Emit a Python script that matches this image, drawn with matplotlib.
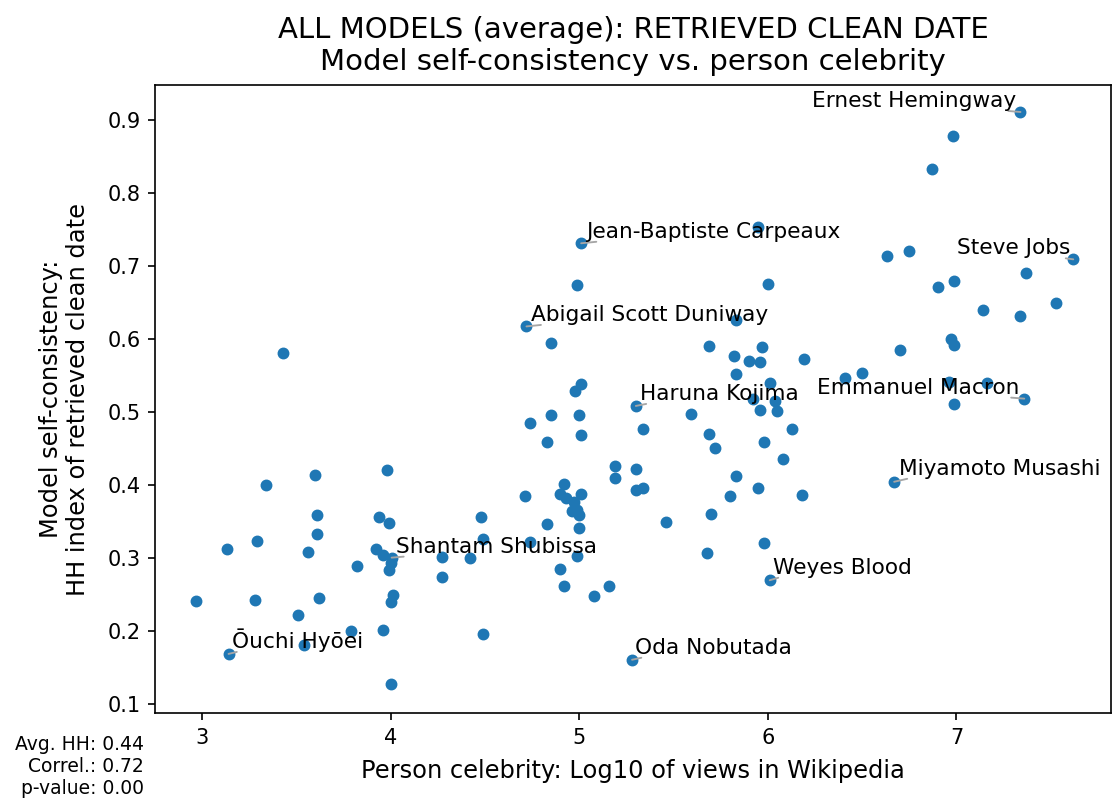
import math
import numpy as np
import matplotlib
matplotlib.use("Agg")
import matplotlib.pyplot as plt

# log10 of Wikipedia views and HH self-consistency index, unlabelled people
log_views = [
    3.43, 3.60, 3.98, 3.34, 3.61, 3.94, 3.99, 3.61, 3.29, 3.13,
    3.56, 3.92, 3.96, 4.27, 4.27, 3.82, 4.00, 3.99, 2.97, 3.28,
    3.62, 4.01, 4.00, 3.51, 3.79, 3.96, 3.54, 4.00,
    4.85, 5.69, 5.82, 5.83, 5.01, 4.98, 4.85, 5.00, 5.59, 4.74,
    5.34, 5.01, 4.83, 5.69, 5.72, 5.19, 5.30, 5.19, 5.83, 4.92,
    5.30, 5.34, 4.71, 4.90, 4.93, 5.01, 4.97, 5.80, 4.96, 4.99,
    5.00, 4.83, 5.00, 5.46, 5.70, 4.48, 4.49, 4.74, 4.42, 4.99,
    4.90, 4.92, 5.16, 5.08, 5.68, 4.49,
    5.95, 4.99, 6.00, 5.83, 5.97, 5.90, 5.96, 6.19, 6.01,
    6.98, 6.87, 6.63, 6.75, 7.37, 6.99, 6.90, 7.14, 7.53, 7.34,
    6.97, 6.99, 6.70, 6.50, 6.41, 5.92, 6.04, 5.96, 6.05, 6.13,
    5.98, 6.08, 5.95, 6.18, 5.98, 6.96, 7.16, 6.99,
]
hh_index = [
    0.581, 0.413, 0.420, 0.399, 0.359, 0.356, 0.347, 0.333, 0.323, 0.312,
    0.308, 0.312, 0.304, 0.301, 0.273, 0.288, 0.292, 0.283, 0.241, 0.242,
    0.244, 0.249, 0.239, 0.221, 0.199, 0.201, 0.180, 0.127,
    0.594, 0.590, 0.577, 0.552, 0.538, 0.529, 0.496, 0.496, 0.497, 0.485,
    0.477, 0.468, 0.458, 0.469, 0.451, 0.425, 0.422, 0.409, 0.412, 0.401,
    0.393, 0.395, 0.385, 0.387, 0.382, 0.387, 0.376, 0.384, 0.364, 0.366,
    0.358, 0.346, 0.340, 0.349, 0.360, 0.356, 0.326, 0.321, 0.299, 0.302,
    0.284, 0.261, 0.261, 0.247, 0.307, 0.195,
    0.754, 0.674, 0.675, 0.626, 0.589, 0.570, 0.568, 0.572, 0.540,
    0.878, 0.833, 0.713, 0.721, 0.690, 0.679, 0.671, 0.639, 0.649, 0.631,
    0.600, 0.591, 0.584, 0.553, 0.546, 0.518, 0.515, 0.502, 0.501, 0.477,
    0.458, 0.435, 0.396, 0.386, 0.320, 0.541, 0.539, 0.511,
]

# people that get a name tag
names = [
    "Ernest Hemingway", "Steve Jobs", "Jean-Baptiste Carpeaux",
    "Abigail Scott Duniway", "Haruna Kojima", "Emmanuel Macron",
    "Miyamoto Musashi", "Weyes Blood", "Oda Nobutada",
    "Shantam Shubissa", "Ōuchi Hyōei",
]
name_views = [7.34, 7.62, 5.01, 4.72, 5.30, 7.36, 6.67, 6.01, 5.28, 4.005, 3.14]
name_hh = [0.911, 0.709, 0.731, 0.617, 0.508, 0.518, 0.404, 0.269, 0.160, 0.300, 0.168]

# where each name sits relative to its dot (pixels) and its alignment
name_offsets = [(-4, 1), (-3, 1), (5, 1.5), (5, 1.5), (4, 2), (-5, 1),
                (5, 3), (3, 2.5), (3, 2), (4, 1), (3, 2)]
name_align = ["right", "right", "left", "left", "left", "right",
              "left", "left", "left", "left", "left"]

x_all = np.array(log_views + name_views)
y_all = np.array(hh_index + name_hh)

# summary numbers shown under the y axis
avg_hh = y_all.mean()
correl = np.corrcoef(x_all, y_all)[0, 1]
n = len(x_all)
t_stat = correl * math.sqrt((n - 2) / (1 - correl ** 2))
p_value = math.erfc(abs(t_stat) / math.sqrt(2))

fig = plt.figure(figsize=(1113 / 150, 800 / 150), dpi=150)
ax = fig.add_axes([155 / 1113, 87 / 800, 956 / 1113, 628 / 800])

ax.scatter(x_all, y_all, s=22, color="#1f77b4", zorder=2)

for name, x, y, off, ha in zip(names, name_views, name_hh, name_offsets, name_align):
    # short grey leader from the bottom corner of the text to the dot
    rel = (0.96, 0) if ha == "right" else (0.04, 0)
    ax.annotate(name, xy=(x, y), xytext=off, textcoords="offset pixels",
                ha=ha, va="bottom", fontsize=10.4, zorder=3,
                arrowprops=dict(arrowstyle="-", color="0.65", lw=0.9,
                                relpos=rel, patchA=None,
                                shrinkA=0, shrinkB=0))

ax.set_xlim(2.75, 7.82)
ax.set_ylim(0.087, 0.948)
ax.set_xticks([3, 4, 5, 6, 7])
ax.set_yticks([0.1, 0.2, 0.3, 0.4, 0.5, 0.6, 0.7, 0.8, 0.9])
ax.tick_params(labelsize=10)

ax.set_xlabel("Person celebrity: Log10 of views in Wikipedia", fontsize=11.6,
              labelpad=5.5)
ax.set_ylabel("Model self-consistency:\nHH index of retrieved clean date",
              fontsize=11.6, labelpad=8)
ax.set_title("ALL MODELS (average): RETRIEVED CLEAN DATE\n"
             "Model self-consistency vs. person celebrity", fontsize=14,
             pad=7)

fig.text(144 / 1113, 1 - 735 / 800,
         f"Avg. HH: {avg_hh:.2f}\nCorrel.: {correl:.2f}\np-value: {p_value:.2f}",
         ha="right", va="top", multialignment="right", fontsize=9)

fig.savefig("out.png", dpi=150)
